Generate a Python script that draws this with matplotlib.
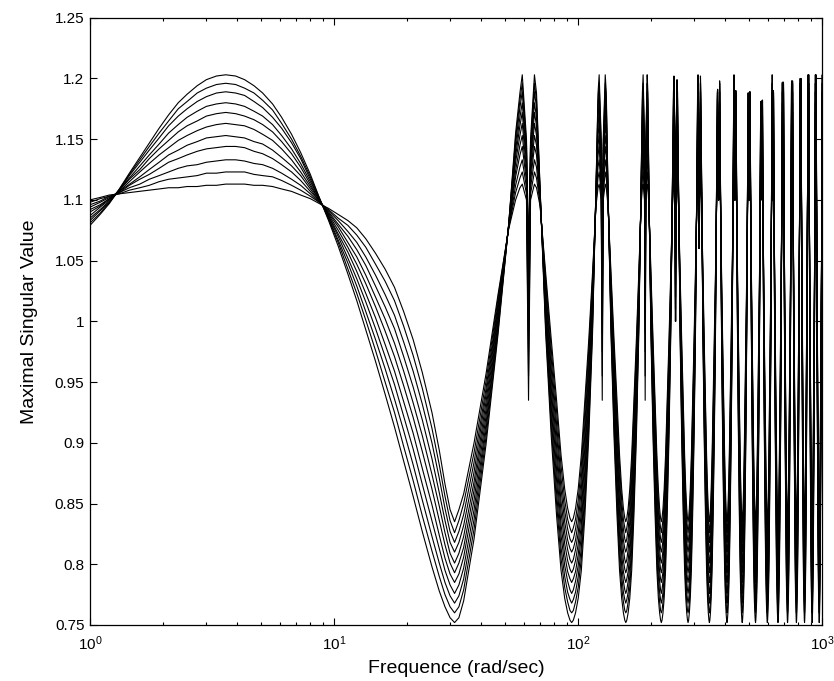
import numpy as np
import matplotlib
matplotlib.use("Agg")
import matplotlib.pyplot as plt
from matplotlib.ticker import FixedLocator, FuncFormatter, LogLocator, NullFormatter

# ---------------- data ----------------
# 11 curves, k = 0 has the tallest hump / deepest trough, k = 10 the flattest

# low-frequency part (1 .. first trough), shared frequencies, one row per curve
hump_f = [1.0, 1.1, 1.2, 1.32, 1.45, 1.6, 1.75, 1.92, 2.1, 2.3, 2.5, 2.75, 3.0,
          3.3, 3.6, 3.95, 4.3, 4.7, 5.1, 5.6, 6.1, 6.7, 7.3, 8.0, 8.7, 9.5,
          10.4, 11.4, 12.4, 13.5, 14.8, 16.2, 17.7, 19.3, 21.1, 23.0, 25.2,
          27.0, 28.5, 29.9, 31.2]
hump_rows = [
    [1.079, 1.088, 1.097, 1.109, 1.122, 1.135, 1.147, 1.159, 1.170, 1.180, 1.187, 1.194, 1.199, 1.202, 1.203, 1.202, 1.199, 1.194, 1.188, 1.179, 1.168, 1.154, 1.139, 1.121, 1.102, 1.083, 1.062, 1.039, 1.017, 0.993, 0.967, 0.940, 0.913, 0.885, 0.856, 0.827, 0.798, 0.778, 0.765, 0.756, 0.752],
    [1.081, 1.089, 1.098, 1.109, 1.121, 1.133, 1.144, 1.155, 1.165, 1.175, 1.181, 1.188, 1.192, 1.195, 1.196, 1.195, 1.192, 1.188, 1.182, 1.174, 1.163, 1.150, 1.136, 1.119, 1.102, 1.084, 1.065, 1.043, 1.023, 1.001, 0.976, 0.950, 0.925, 0.897, 0.869, 0.840, 0.811, 0.790, 0.775, 0.765, 0.760],
    [1.083, 1.091, 1.098, 1.108, 1.120, 1.131, 1.141, 1.151, 1.161, 1.169, 1.175, 1.181, 1.185, 1.188, 1.189, 1.188, 1.186, 1.181, 1.176, 1.168, 1.159, 1.147, 1.134, 1.117, 1.101, 1.085, 1.067, 1.048, 1.029, 1.008, 0.985, 0.961, 0.936, 0.910, 0.882, 0.853, 0.823, 0.801, 0.785, 0.774, 0.768],
    [1.085, 1.092, 1.099, 1.108, 1.118, 1.128, 1.137, 1.146, 1.155, 1.162, 1.168, 1.173, 1.177, 1.179, 1.180, 1.179, 1.177, 1.173, 1.169, 1.162, 1.153, 1.142, 1.130, 1.115, 1.101, 1.086, 1.070, 1.052, 1.035, 1.016, 0.994, 0.971, 0.948, 0.922, 0.895, 0.866, 0.836, 0.813, 0.795, 0.783, 0.776],
    [1.087, 1.094, 1.100, 1.108, 1.117, 1.125, 1.134, 1.142, 1.149, 1.156, 1.161, 1.165, 1.169, 1.171, 1.172, 1.171, 1.169, 1.166, 1.162, 1.156, 1.148, 1.138, 1.127, 1.113, 1.100, 1.087, 1.072, 1.057, 1.041, 1.023, 1.003, 0.981, 0.959, 0.934, 0.908, 0.879, 0.849, 0.824, 0.805, 0.792, 0.785],
    [1.090, 1.095, 1.101, 1.107, 1.115, 1.123, 1.130, 1.137, 1.143, 1.149, 1.153, 1.157, 1.160, 1.162, 1.163, 1.162, 1.161, 1.158, 1.154, 1.149, 1.142, 1.133, 1.123, 1.111, 1.100, 1.088, 1.075, 1.061, 1.047, 1.031, 1.012, 0.992, 0.971, 0.947, 0.921, 0.893, 0.862, 0.836, 0.816, 0.801, 0.793],
    [1.092, 1.096, 1.101, 1.107, 1.113, 1.119, 1.125, 1.131, 1.137, 1.141, 1.145, 1.148, 1.151, 1.152, 1.153, 1.152, 1.151, 1.148, 1.146, 1.141, 1.135, 1.128, 1.120, 1.109, 1.099, 1.089, 1.078, 1.065, 1.053, 1.038, 1.020, 1.002, 0.982, 0.959, 0.933, 0.906, 0.874, 0.848, 0.826, 0.809, 0.801],
    [1.094, 1.098, 1.102, 1.106, 1.112, 1.117, 1.121, 1.126, 1.131, 1.134, 1.137, 1.140, 1.142, 1.143, 1.144, 1.144, 1.143, 1.140, 1.138, 1.134, 1.129, 1.123, 1.116, 1.107, 1.099, 1.090, 1.080, 1.070, 1.059, 1.046, 1.029, 1.012, 0.994, 0.971, 0.946, 0.919, 0.887, 0.859, 0.836, 0.818, 0.810],
    [1.096, 1.099, 1.103, 1.106, 1.110, 1.113, 1.117, 1.120, 1.123, 1.126, 1.128, 1.129, 1.131, 1.132, 1.133, 1.133, 1.132, 1.130, 1.129, 1.126, 1.122, 1.117, 1.112, 1.105, 1.098, 1.091, 1.083, 1.074, 1.065, 1.053, 1.038, 1.022, 1.005, 0.983, 0.959, 0.932, 0.900, 0.871, 0.846, 0.827, 0.818],
    [1.098, 1.101, 1.103, 1.105, 1.108, 1.110, 1.112, 1.115, 1.117, 1.118, 1.119, 1.120, 1.122, 1.122, 1.123, 1.123, 1.123, 1.121, 1.120, 1.119, 1.116, 1.112, 1.108, 1.103, 1.098, 1.092, 1.085, 1.079, 1.071, 1.061, 1.047, 1.033, 1.017, 0.996, 0.972, 0.945, 0.912, 0.882, 0.856, 0.836, 0.826],
    [1.100, 1.102, 1.104, 1.105, 1.106, 1.107, 1.108, 1.109, 1.110, 1.110, 1.111, 1.111, 1.112, 1.112, 1.113, 1.113, 1.113, 1.112, 1.112, 1.111, 1.109, 1.107, 1.104, 1.101, 1.097, 1.093, 1.088, 1.083, 1.077, 1.068, 1.056, 1.043, 1.028, 1.008, 0.985, 0.958, 0.925, 0.894, 0.866, 0.845, 0.835],
]

# levels of each curve in the oscillating part
trough_level = [0.752, 0.760, 0.768, 0.776, 0.785, 0.793, 0.801, 0.810, 0.818, 0.826, 0.835]
peak_level = [1.203, 1.196, 1.189, 1.180, 1.172, 1.163, 1.153, 1.144, 1.133, 1.123, 1.113]
near_peak = [1.188, 1.182, 1.176, 1.168, 1.161, 1.153, 1.145, 1.137, 1.127, 1.118, 1.110]
near_notch = [1.150, 1.145, 1.140, 1.135, 1.130, 1.125, 1.120, 1.115, 1.110, 1.105, 1.100]
notch_level = [1.060, 1.050, 1.040, 1.030, 1.020, 1.010, 1.000, 0.990, 0.975, 0.955, 0.935]

# rising flank after the first trough (31 rad/sec), one row per curve
first_offset = [1.3, 2.8, 6.3, 10.8, 15.8, 20.8, 24.3]
first_rows = [
    [0.756, 0.770, 0.821, 0.899, 0.989, 1.080, 1.155],
    [0.765, 0.779, 0.829, 0.905, 0.992, 1.080, 1.151],
    [0.774, 0.788, 0.837, 0.911, 0.996, 1.080, 1.146],
    [0.783, 0.797, 0.845, 0.916, 0.999, 1.079, 1.141],
    [0.792, 0.806, 0.853, 0.922, 1.002, 1.079, 1.136],
    [0.801, 0.814, 0.861, 0.928, 1.006, 1.079, 1.131],
    [0.809, 0.823, 0.868, 0.934, 1.009, 1.078, 1.124],
    [0.818, 0.832, 0.876, 0.940, 1.012, 1.078, 1.119],
    [0.827, 0.841, 0.884, 0.945, 1.015, 1.077, 1.112],
    [0.836, 0.850, 0.892, 0.951, 1.019, 1.077, 1.106],
    [0.845, 0.858, 0.900, 0.957, 1.022, 1.076, 1.100],
]

# flank next to the later (broader) troughs, distance from the trough in rad/sec
later_offset = [1.5, 3.5, 6.0, 9.0, 12.5, 16.5, 20.5, 24.3]
later_rows = [
    [0.754, 0.760, 0.772, 0.795, 0.840, 0.905, 0.990, 1.110],
    [0.762, 0.769, 0.781, 0.805, 0.850, 0.913, 0.995, 1.109],
    [0.771, 0.777, 0.790, 0.814, 0.859, 0.921, 1.000, 1.107],
    [0.779, 0.786, 0.799, 0.824, 0.869, 0.929, 1.005, 1.106],
    [0.788, 0.794, 0.808, 0.833, 0.878, 0.937, 1.010, 1.104],
    [0.796, 0.803, 0.817, 0.843, 0.888, 0.945, 1.015, 1.103],
    [0.804, 0.812, 0.826, 0.852, 0.897, 0.953, 1.020, 1.101],
    [0.813, 0.820, 0.835, 0.862, 0.907, 0.961, 1.025, 1.100],
    [0.821, 0.829, 0.844, 0.871, 0.916, 0.969, 1.030, 1.098],
    [0.830, 0.837, 0.853, 0.881, 0.926, 0.977, 1.035, 1.097],
    [0.838, 0.846, 0.862, 0.890, 0.935, 0.985, 1.040, 1.095],
]

# trough frequencies (rad/sec); twin peaks sit at these offsets after each trough
trough_f = [31.2, 94.2, 157.0, 219.5, 282.5, 345.5, 408.0, 471.0,
            534.0, 597.0, 660.0, 722.5, 785.5, 848.0, 911.0, 974.0]
peak_offset = [26.6, 27.9, 30.3, 31.5, 32.7, 35.1, 36.4]

# highest point reached in each twin peak (left / right spike), lowest notch between them
cap_left = [1.203, 1.203, 1.203, 1.202, 1.203, 1.191, 1.203, 1.188,
            1.181, 1.203, 1.197, 1.198, 1.200, 1.203, 1.203, 1.203]
cap_right = [1.203, 1.203, 1.203, 1.199, 1.202, 1.198, 1.190, 1.189,
             1.182, 1.190, 1.197, 1.198, 1.200, 1.203, 1.203, 1.203]
notch_floor = [0.93, 0.93, 0.93, 1.00, 1.06, 1.10, 1.10, 1.10,
               1.11, 1.10, 1.10, 1.10, 1.10, 1.10, 1.10, 1.10]

y_ticks = [0.75, 0.8, 0.85, 0.9, 0.95, 1.0, 1.05, 1.1, 1.15, 1.2, 1.25]

# ---------------- figure ----------------
plt.rcParams['font.family'] = ['Liberation Sans', 'DejaVu Sans']
plt.rcParams['mathtext.fontset'] = 'custom'
plt.rcParams['mathtext.rm'] = 'Liberation Sans'

fig = plt.figure(figsize=(8.34, 6.81), dpi=100)
ax = fig.add_axes([90 / 834, 1 - 625 / 681, 732 / 834, 607.3 / 681])

for k in range(len(peak_level)):
    f = list(hump_f)
    v = list(hump_rows[k])
    for j, t in enumerate(trough_f):
        nxt = trough_f[j + 1] if j + 1 < len(trough_f) else t + 63.0
        if j > 0:
            f.append(t)
            v.append(trough_level[k])
        # rising side
        if j == 0:
            f += [t + o for o in first_offset]
            v += first_rows[k]
        else:
            f += [t + o for o in later_offset]
            v += later_rows[k]
        # twin peak with the notch between
        top1 = min(peak_level[k], cap_left[j])
        top2 = min(peak_level[k], cap_right[j])
        nn = min(near_notch[k], top1, top2)
        f += [t + o for o in peak_offset]
        v += [min(near_peak[k], top1), top1, nn, max(notch_level[k], notch_floor[j]),
              nn, top2, min(near_peak[k], top2)]
        # falling side into the next trough
        f += [nxt - o for o in later_offset[::-1]]
        v += later_rows[k][::-1]
    ax.plot(f, v, color='k', lw=0.8)

ax.set_xscale('log')
ax.set_xlim(1, 1000)
ax.set_ylim(0.75, 1.25)
ax.yaxis.set_major_locator(FixedLocator(y_ticks))
ax.yaxis.set_major_formatter(FuncFormatter(lambda y, p: '%g' % y))
ax.xaxis.set_minor_locator(LogLocator(base=10, subs=np.arange(2, 10)))
ax.xaxis.set_minor_formatter(NullFormatter())

ax.tick_params(which='both', direction='in', top=True, right=True, labelsize=11, width=0.8)
ax.tick_params(which='major', length=5)
ax.tick_params(which='minor', length=2.5)
ax.tick_params(axis='y', pad=4)
ax.tick_params(axis='x', pad=7)
for s in ax.spines.values():
    s.set_linewidth(0.9)

ax.set_xlabel('Frequence (rad/sec)', fontsize=14, labelpad=5)
ax.set_ylabel('Maximal Singular Value', fontsize=14, labelpad=12)

fig.savefig('out.png', dpi=100)
